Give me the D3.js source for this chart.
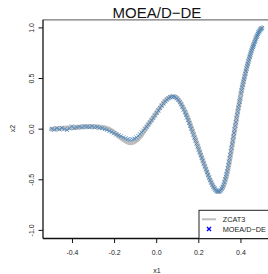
<!DOCTYPE html>
<html>
<head>
<meta charset="utf-8">
<script src="https://cdn.jsdelivr.net/npm/d3@7"></script>
<style>
body { margin:0; background:#fff; }
svg { display:block; font-family:"Liberation Sans", Arial, sans-serif; }
.tick-text { font-size:7px; fill:#222; }
.lab-text { font-size:7px; fill:#222; }
.leg-text { font-size:7.3px; fill:#222; }
</style>
</head>
<body>
<svg width="268" height="274"></svg>
<script>
var titleText = 'MOEA/D\u2212DE';
var xTicks = [-0.4, -0.2, 0.0, 0.2, 0.4];
var yTicks = [-1.0, -0.5, 0.0, 0.5, 1.0];
var legendNames = ['ZCAT3', 'MOEA/D\u2212DE'];

// true front
var frontX = [-0.500,-0.470,-0.440,-0.400,-0.360,-0.320,-0.290,-0.260,-0.230,-0.200,-0.170,-0.145,-0.125,-0.110,-0.095,-0.080,-0.060,-0.040,-0.020,0.000,
	0.020,0.040,0.060,0.075,0.090,0.105,0.120,0.135,0.150,0.165,0.180,0.195,0.210,0.225,0.240,0.255,0.270,0.282,0.292,0.302,
	0.312,0.322,0.332,0.342,0.352,0.362,0.372,0.382,0.392,0.402,0.412,0.422,0.432,0.442,0.452,0.462,0.472,0.482,0.492,0.500];
var frontY = [0.000,0.005,0.010,0.015,0.022,0.026,0.025,0.018,0.002,-0.035,-0.085,-0.120,-0.135,-0.130,-0.110,-0.076,-0.020,0.045,0.105,0.165,
	0.225,0.278,0.312,0.322,0.315,0.285,0.235,0.175,0.100,0.015,-0.075,-0.165,-0.255,-0.345,-0.430,-0.510,-0.570,-0.605,-0.618,-0.610,
	-0.585,-0.535,-0.460,-0.360,-0.240,-0.115,0.015,0.140,0.260,0.370,0.470,0.560,0.645,0.720,0.790,0.850,0.905,0.950,0.982,1.000];

// MOEA/D-DE solutions
var moeaPts = [
	[-0.498,0.004],[-0.486,-0.006],[-0.474,0.010],[-0.462,-0.003],[-0.450,0.012],[-0.438,0.000],[-0.426,-0.008],[-0.414,0.008],
	[-0.403,0.028],[-0.391,0.010],[-0.379,0.018],[-0.367,0.024],[-0.355,0.016],[-0.343,0.030],[-0.331,0.024],[-0.319,0.020],
	[-0.307,0.028],[-0.295,0.016],[-0.283,0.022],[-0.271,0.012],[-0.259,0.010],[-0.247,0.000],[-0.236,-0.006],[-0.225,-0.018],
	[-0.214,-0.028],[-0.203,-0.040],[-0.192,-0.052],[-0.181,-0.062],[-0.170,-0.070],[-0.159,-0.082],[-0.148,-0.090],[-0.137,-0.098],
	[-0.126,-0.104],[-0.115,-0.100],[-0.105,-0.094],[-0.096,-0.082],
	[-0.088,-0.066],[-0.080,-0.050],[-0.072,-0.032],[-0.064,-0.015],[-0.056,0.005],[-0.048,0.024],[-0.040,0.045],[-0.032,0.066],
	[-0.024,0.088],[-0.016,0.110],[-0.008,0.135],[0.000,0.160],[0.008,0.184],[0.016,0.208],[0.024,0.232],[0.032,0.254],
	[0.040,0.274],[0.048,0.292],[0.056,0.305],[0.064,0.316],[0.072,0.322],[0.080,0.322],[0.088,0.316],
	[0.096,0.304],[0.103,0.288],[0.110,0.266],[0.116,0.244],[0.122,0.220],[0.128,0.194],[0.134,0.166],[0.139,0.140],
	[0.144,0.114],[0.149,0.088],[0.154,0.060],[0.159,0.032],[0.164,0.004],[0.169,-0.024],[0.174,-0.054],[0.179,-0.084],
	[0.184,-0.112],[0.189,-0.142],[0.194,-0.172],[0.199,-0.200],[0.204,-0.228],[0.209,-0.256],[0.214,-0.284],[0.219,-0.312],
	[0.224,-0.340],[0.229,-0.368],[0.234,-0.396],[0.239,-0.424],[0.244,-0.452],[0.249,-0.478],[0.254,-0.504],[0.259,-0.528],
	[0.264,-0.550],[0.269,-0.570],[0.274,-0.586],[0.279,-0.600],[0.284,-0.610],[0.289,-0.616],[0.294,-0.618],[0.299,-0.614],
	[0.304,-0.604],[0.309,-0.588],
	[0.313,-0.570],[0.317,-0.548],[0.321,-0.522],[0.325,-0.494],[0.328,-0.470],[0.331,-0.444],[0.334,-0.416],[0.337,-0.386],
	[0.340,-0.354],[0.343,-0.322],[0.346,-0.288],[0.349,-0.254],[0.352,-0.220],[0.355,-0.184],[0.358,-0.148],[0.361,-0.112],
	[0.364,-0.075],[0.367,-0.038],[0.370,-0.002],[0.373,0.034],[0.376,0.070],[0.379,0.106],[0.382,0.140],[0.385,0.174],
	[0.388,0.208],[0.391,0.240],[0.394,0.272],[0.397,0.304],[0.400,0.352],[0.403,0.382],[0.406,0.412],[0.409,0.440],
	[0.412,0.468],[0.415,0.494],[0.418,0.520],[0.421,0.546],[0.424,0.574],[0.427,0.598],[0.430,0.622],[0.433,0.645],
	[0.436,0.668],[0.439,0.690],[0.442,0.714],[0.445,0.736],[0.448,0.756],[0.451,0.776],[0.454,0.796],[0.457,0.812],
	[0.460,0.826],[0.463,0.840],[0.466,0.860],[0.469,0.875],[0.472,0.895],[0.475,0.910],[0.478,0.925],[0.481,0.940],
	[0.484,0.955],[0.487,0.965],[0.490,0.975],[0.493,0.985],[0.496,0.992],[0.499,0.998]
];

function FrontPlot(){

}

FrontPlot.prototype.render = function(opts){
	this.opts = opts;
	this.svg = d3.select('svg');
	this.x = d3.scaleLinear().domain([-0.54, 0.54]).range([opts.left, opts.right]);
	this.y = d3.scaleLinear().domain([-1.08, 1.08]).range([opts.bottom, opts.top]);

	this.addFront();
	this.addPoints();
	this.addFrame();
	this.addAxes();
	this.addLegend();
}

FrontPlot.prototype.addFront = function(){
	var x = this.x, y = this.y;
	var line = d3.line()
		.x(function(d, i){ return x(frontX[i]); })
		.y(function(d, i){ return y(frontY[i]); })
		.curve(d3.curveMonotoneX);
	this.svg.append('path')
		.datum(frontX)
		.attr('d', line)
		.attr('fill', 'none')
		.attr('stroke', '#bebebe')
		.attr('stroke-width', 4.8)
		.attr('stroke-linecap', 'round');
}

FrontPlot.prototype.cross = function(g, cx, cy, r, color, w){
	g.append('path')
		.attr('d', 'M' + (cx-r) + ',' + (cy-r) + 'L' + (cx+r) + ',' + (cy+r) +
		           'M' + (cx-r) + ',' + (cy+r) + 'L' + (cx+r) + ',' + (cy-r))
		.attr('stroke', color)
		.attr('stroke-width', w)
		.attr('fill', 'none');
}

FrontPlot.prototype.addPoints = function(){
	var g = this.svg.append('g').attr('class', 'moea-pts');
	moeaPts.forEach((function(p){
		this.cross(g, this.x(p[0]), this.y(p[1]), 2, '#4a87bd', 0.85);
	}).bind(this));
}

FrontPlot.prototype.addFrame = function(){
	var o = this.opts;
	this.svg.append('line').attr('x1', o.left).attr('x2', o.right + 5).attr('y1', o.top).attr('y2', o.top)
		.attr('stroke', '#777').attr('stroke-width', 1.2);
	this.svg.append('line').attr('x1', o.left).attr('x2', o.left).attr('y1', o.top).attr('y2', o.bottom)
		.attr('stroke', '#111').attr('stroke-width', 1.3);
	this.svg.append('line').attr('x1', o.left).attr('x2', o.right + 5).attr('y1', o.bottom).attr('y2', o.bottom)
		.attr('stroke', '#111').attr('stroke-width', 1.3);
}

FrontPlot.prototype.fmt = function(v){
	return d3.format('.1f')(v).replace('\u2212', '-');
}

FrontPlot.prototype.addAxes = function(){
	var o = this.opts, self = this;
	var g = this.svg.append('g').attr('class', 'axes');

	xTicks.forEach(function(t){
		var px = self.x(t);
		g.append('line').attr('x1', px).attr('x2', px).attr('y1', o.bottom).attr('y2', o.bottom + 4.5)
			.attr('stroke', '#111').attr('stroke-width', 1);
		g.append('text').attr('class', 'tick-text').attr('x', px).attr('y', o.bottom + 16.5)
			.attr('text-anchor', 'middle').text(self.fmt(t));
	});

	yTicks.forEach(function(t){
		var py = self.y(t);
		g.append('line').attr('x1', o.left - 4.5).attr('x2', o.left).attr('y1', py).attr('y2', py)
			.attr('stroke', '#111').attr('stroke-width', 1);
		g.append('text').attr('class', 'tick-text')
			.attr('transform', 'translate(' + 33.5 + ',' + py + ') rotate(-90)')
			.attr('text-anchor', 'middle').text(self.fmt(t));
	});

	g.append('text').attr('class', 'lab-text').attr('x', 157).attr('y', 272.5)
		.attr('text-anchor', 'middle').text('x1');
	g.append('text').attr('class', 'lab-text')
		.attr('transform', 'translate(14.5,' + 128.5 + ') rotate(-90)')
		.attr('text-anchor', 'middle').text('x2');

	this.svg.append('text').attr('x', 157).attr('y', 18.3)
		.attr('text-anchor', 'middle')
		.style('font-size', '15px').style('fill', '#111')
		.text(titleText);
}

FrontPlot.prototype.addLegend = function(){
	var o = this.opts;
	var g = this.svg.append('g').attr('class', 'legend');
	g.append('rect').attr('x', 199).attr('y', 210.3).attr('width', o.right - 199).attr('height', o.bottom - 210.3)
		.attr('fill', '#fff').attr('stroke', '#222').attr('stroke-width', 1);

	g.append('line').attr('x1', 202).attr('x2', 216).attr('y1', 219.3).attr('y2', 219.3)
		.attr('stroke', '#bebebe').attr('stroke-width', 2);
	this.cross(g, 209, 229, 2, '#0000ff', 1.4);

	legendNames.forEach(function(n, i){
		g.append('text').attr('class', 'leg-text').attr('x', 222.7).attr('y', 221.9 + i * 9.7).text(n);
	});
}

new FrontPlot().render({left:43, right:270.4, top:19.8, bottom:238.5});
</script>
</body>
</html>
